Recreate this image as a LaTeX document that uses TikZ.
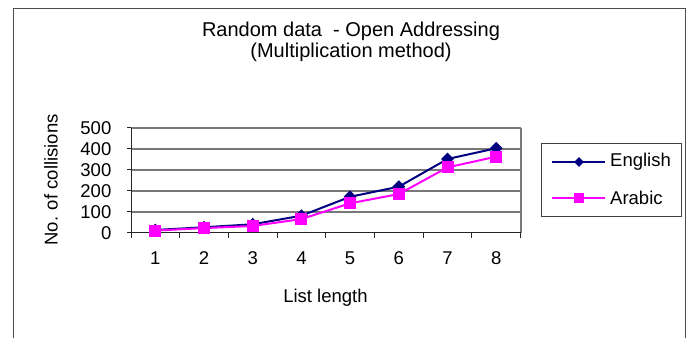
\documentclass[tikz,border=0pt]{standalone}
\usepackage{fontspec}
\setmainfont{Liberation Sans}
\usetikzlibrary{positioning,shapes.geometric}
\definecolor{enavy}{RGB}{0,0,128}
\definecolor{amag}{RGB}{255,0,255}
\definecolor{gridgray}{RGB}{120,120,120}

\begin{document}
\begin{tikzpicture}[x=1pt,y=-1pt,
    lbl/.style={font=\fontsize{18.5}{18}\selectfont,inner sep=0pt},
    gridline/.style={draw=gridgray,line width=1.6pt},
    axisline/.style={draw=black!85,line width=1pt},
    eng/.style={draw=enavy,line width=2pt},
    arb/.style={draw=amag,line width=2pt},
    engmark/.style={diamond,fill=enavy,inner sep=0pt,minimum size=13pt},
    arbmark/.style={rectangle,fill=amag,inner sep=0pt,minimum size=12pt}]
  \useasboundingbox (0,0) rectangle (689,338);
  % chart border (runs off the bottom)
  \draw[black!70,line width=1pt] (13,338) -- (13,8) -- (685,8) -- (685,338);
  \node[lbl,align=center,font=\fontsize{20}{20.5}\selectfont] (title) at (351,42)
    {Random data\ \ - Open Addressing\\(Multiplication method)};
  % plot area
  \foreach \v in {100,200,300,400,500}
    \draw[gridline] (131,{232.7-0.21*\v}) -- (520.7,{232.7-0.21*\v});
  \draw[gridline] (520.7,127.7) -- (520.7,232.7);
  \draw[axisline] (131,127.7) -- (131,232.7) -- (520.7,232.7);
  \foreach \v in {0,100,...,500}{
    \draw[axisline] (127,{232.7-0.21*\v}) -- (131,{232.7-0.21*\v});
    \node[lbl,anchor=east] (yt\v) at (111.5,{232.7-0.21*\v}) {\v};
  }
  \foreach \i in {0,...,8}
    \draw[axisline] ({131+\i*48.7},232.7) -- ({131+\i*48.7},238);
  \foreach \i in {1,...,8}
    \node[lbl] (xt\i) at ({155.3+(\i-1)*48.7},258) {\i};
  \node[lbl,rotate=90] (ylab) at (51,180) {No. of collisions};
  \node[lbl] (xlab) at (325.5,297.5) {List length};
  % data
  \foreach \v [count=\i] in {13,26,40,81,171,219,351,402}
    \coordinate (e\i) at ({155.3+(\i-1)*48.7},{232.7-0.21*\v});
  \foreach \v [count=\i] in {10,22,32,65,140,184,311,362}
    \coordinate (a\i) at ({155.3+(\i-1)*48.7},{232.7-0.21*\v});
  \draw[eng] (e1) \foreach \i in {2,...,8}{ -- (e\i)};
  \foreach \i in {1,...,8} \node[engmark] at (e\i) {};
  \draw[arb] (a1) \foreach \i in {2,...,8}{ -- (a\i)};
  \foreach \i in {1,...,8} \node[arbmark] at (a\i) {};
  % legend
  \node[draw=black!75,line width=1pt,minimum width=140pt,minimum height=72.7pt] (legend) at (611,179.7) {};
  \node[lbl,anchor=west] (leng) at (610,162) {English};
  \node[lbl,anchor=west] (larb) at (610,198.3) {Arabic};
  \coordinate (seng) at (552,162);
  \coordinate (sarb) at (552,198.3);
  \draw[eng] (seng) -- ([xshift=-5pt]leng.west);
  \draw[arb] (sarb) -- ([xshift=-5pt]larb.west);
  \node[engmark,minimum size=10pt] at (579,162) {};
  \node[arbmark,minimum size=10pt] at (579,198.3) {};
\end{tikzpicture}
\end{document}
